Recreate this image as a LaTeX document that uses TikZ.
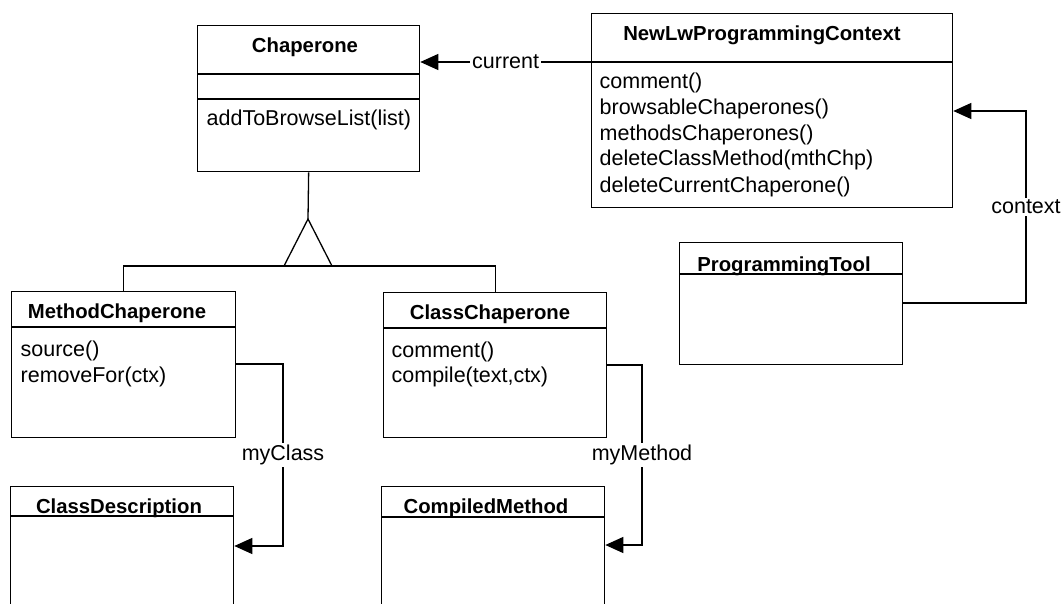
\documentclass[tikz,border=0pt]{standalone}
\usepackage{fontspec}
\setmainfont{Liberation Sans}
\usetikzlibrary{arrows.meta}

\begin{document}
\begin{tikzpicture}[x=1pt, y=-1pt, line width=1.3pt,
  >={Triangle[length=18pt,width=16pt]},
  box/.style={draw, rectangle, anchor=north west, inner sep=0pt},
  cname/.style={font=\fontsize{20.3}{24}\selectfont\bfseries, anchor=base, inner sep=0pt},
  op/.style={font=\fontsize{21.5}{26}\selectfont, anchor=base west, inner sep=0pt},
  role/.style={font=\fontsize{21.5}{26}\selectfont, fill=white, inner sep=2pt}]
\useasboundingbox (0,0) rectangle (1064,604);
\clip (0,0) rectangle (1064,604);

% class boxes
\node[box, minimum width=222pt, minimum height=146pt] (chap) at (197,25) {};
\node[box, minimum width=361pt, minimum height=194pt] (ctx) at (591,13) {};
\node[box, minimum width=223pt, minimum height=122pt] (tool) at (679,242) {};
\node[box, minimum width=224pt, minimum height=146pt] (mchap) at (11,291) {};
\node[box, minimum width=223pt, minimum height=145pt] (cchap) at (383,292) {};
\node[box, minimum width=223pt, minimum height=140pt] (cdesc) at (10,486) {};
\node[box, minimum width=223pt, minimum height=140pt] (cmeth) at (381,486) {};

% compartments
\draw (chap.west |- 0,74) -- (chap.east |- 0,74);
\draw (chap.west |- 0,99) -- (chap.east |- 0,99);
\draw (ctx.west |- 0,62) -- (ctx.east |- 0,62);
\draw (tool.west |- 0,274) -- (tool.east |- 0,274);
\draw (mchap.west |- 0,327) -- (mchap.east |- 0,327);
\draw (cchap.west |- 0,328) -- (cchap.east |- 0,328);
\draw (cdesc.west |- 0,516) -- (cdesc.east |- 0,516);
\draw (cmeth.west |- 0,517) -- (cmeth.east |- 0,517);

% class names
\node[cname] (chapname) at (305,53) {Chaperone};
\node[cname] (ctxname) at (762,41) {NewLwProgrammingContext};
\node[cname] (toolname) at (784,271) {ProgrammingTool};
\node[cname] (mchapname) at (117,318) {MethodChaperone};
\node[cname] (cchapname) at (490,319) {ClassChaperone};
\node[cname] (cdescname) at (119,513) {ClassDescription};
\node[cname] (cmethname) at (486,513) {CompiledMethod};

% operations
\node[op] (chapop) at (206,126) {addToBrowseList(list)};
\node[op] (ctxop1) at (599,89) {comment()};
\node[op] (ctxop2) at (599,115) {browsableChaperones()};
\node[op] (ctxop3) at (599,140.5) {methodsChaperones()};
\node[op] (ctxop4) at (599,166) {deleteClassMethod(mthChp)};
\node[op] (ctxop5) at (599,192) {deleteCurrentChaperone()};
\node[op] (mchapop1) at (20,356) {source()};
\node[op] (mchapop2) at (20,382) {removeFor(ctx)};
\node[op] (cchapop1) at (391,357) {comment()};
\node[op] (cchapop2) at (391,382) {compile(text,ctx)};

% generalization
\coordinate (apex) at (308,219);
\draw (chap.south) -- (apex);
\draw (apex) -- (284,266) -- (332,266) -- cycle;
\draw (mchap.north) -- ++(0,-25) -| (cchap.north);

% associations
\draw[->] (ctx.west |- 0,62) -- node[role]{current} (chap.east |- 0,62);
\draw[->] (tool.east |- 0,303) -- (1026,303) -- node[role]{context} (1026,111) -- (ctx.east |- 0,111);
\draw[->] (mchap.east |- 0,364) -- (283,364) -- node[role]{myClass} (283,546) -- (cdesc.east |- 0,546);
\draw[->] (cchap.east |- 0,365) -- (642,365) -- node[role]{myMethod} (642,545) -- (cmeth.east |- 0,545);
\end{tikzpicture}
\end{document}
